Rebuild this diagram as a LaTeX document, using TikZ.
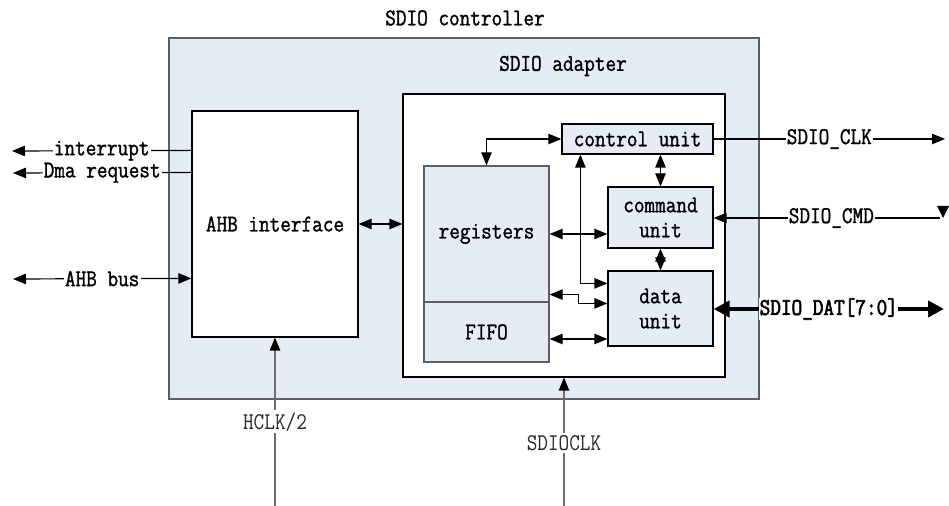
\documentclass[tikz,border=0pt]{standalone}
\usepackage{fontspec}
\setmonofont{Latin Modern Mono}[FakeStretch=0.86,FakeBold=1.3]
\newfontfamily\lightmono{Latin Modern Mono}[FakeStretch=0.86]
\newfontfamily\boldmono{Latin Modern Mono}[FakeStretch=0.86,FakeBold=2.6]
\usetikzlibrary{arrows.meta,calc}
\definecolor{boxblue}{RGB}{230,236,246}
\definecolor{edgegray}{RGB}{95,95,95}
\definecolor{clkgray}{RGB}{110,110,110}
\begin{document}
\begin{tikzpicture}[x=0.5pt,y=-0.5pt,
  font=\fontsize{12}{12.5}\selectfont\ttfamily,
  blk/.style={draw=black,line width=0.6pt,inner sep=0pt,align=center},
  bluebox/.style={blk,fill=boxblue},
  whitebox/.style={blk,fill=white},
  conn/.style={line width=0.6pt,black},
  biarrow/.style={conn,{Triangle[length=6.5pt,width=5.2pt]}-{Triangle[length=6.5pt,width=5.2pt]}},
  toarrow/.style={conn,-{Triangle[length=6.5pt,width=5.2pt]}},
  fatarrow/.style={line width=2pt,black,{Triangle[length=8pt,width=8pt]}-{Triangle[length=8pt,width=8pt]}},
  lbl/.style={fill=white,inner sep=0.6pt},
  clklbl/.style={fill=white,inner sep=1pt,text=black!85,font=\fontsize{12}{13.5}\selectfont\lightmono},
  clkline/.style={line width=0.7pt,clkgray,-{Triangle[length=6.5pt,width=5.2pt,color=black]}}]
\useasboundingbox (0,0) rectangle (949,506);
% frames
\node[bluebox,draw=edgegray,line width=0.8pt,minimum width=295pt,minimum height=180.5pt] (ctl) at (464,218.5) {};
\node[whitebox,minimum width=161pt,minimum height=141.5pt] (adp) at (564,235.5) {};
\node[whitebox,minimum width=83pt,minimum height=113pt] (ahb) at (275,224) {AHB interface};
\node (ttl) at (465,18) {SDIO controller};
\node (adt) at (563,66) {SDIO adapter};
% inner blocks
\node[bluebox,draw=edgegray,minimum width=62.5pt,minimum height=68pt] (regs) at (486.5,234) {registers};
\node[bluebox,draw=edgegray,minimum width=62.5pt,minimum height=30pt] (fifo) at (486.5,332) {FIFO};
\node[bluebox,minimum width=75.5pt,minimum height=15pt] (ctrl) at (637.5,139) {control unit};
\node[bluebox,minimum width=52.5pt,minimum height=30.5pt] (cmd) at (660.5,217.5) {command\\unit};
\node[bluebox,minimum width=52.5pt,minimum height=37.5pt] (dat) at (660.5,308.5) {data\\unit};
% internal connectors
\draw[biarrow] (ahb.east) -- (ahb.east -| adp.west);
\draw[biarrow] (regs.north) |- (ctrl.west);
\draw[biarrow] (regs.east) -- (regs.east -| cmd.west);
\draw[biarrow] (ctrl.south -| cmd.north) -- (cmd.north);
\draw[biarrow] (cmd.south) -- (dat.north);
\coordinate (cdA) at ($(ctrl.south west)+(19,0)$);
\coordinate (cdB) at ($(dat.north west)+(0,13)$);
\draw[biarrow] (cdA) |- (cdB);
\coordinate (rdA) at ($(regs.south east)+(0,-8)$);
\coordinate (rdB) at ($(dat.north west)+(0,33)$);
\draw[biarrow] (rdA) -- ++(29,0) |- (rdB);
\coordinate (fdA) at ($(fifo.east)+(0,7)$);
\draw[biarrow] (fdA) -- (fdA -| dat.west);
% left signals
\coordinate (intR) at ($(ahb.north west)+(0,40)$);
\coordinate (intL) at (12,151);
\draw[toarrow] (intR) -- node[lbl] (intT) {interrupt} (intL);
\coordinate (dmaR) at ($(ahb.north west)+(0,62)$);
\coordinate (dmaL) at (13,173);
\draw[toarrow] (dmaR) -- node[lbl] (dmaT) {Dma request} (dmaL);
\coordinate (busR) at ($(ahb.north west)+(0,168)$);
\coordinate (busL) at (13,279);
\draw[biarrow] (busL) -- node[lbl] (busT) {AHB bus} (busR);
% right signals
\coordinate (clkR) at (945,139);
\draw[toarrow] (ctrl.east) -- node[lbl,pos=0.5] (clkT) {SDIO\_CLK} (clkR);
\coordinate (cmdR) at (940,218);
\draw[toarrow] (cmdR) -- node[lbl,pos=0.48] (cmdT) {SDIO\_CMD} (cmd.east |- cmdR);
\fill[black] (937,206) -- (949,206) -- (943,218) -- cycle;
\coordinate (datR) at (944,309);
\draw[fatarrow] (dat.east |- datR) -- node[lbl,inner sep=0.3pt,font=\fontsize{12}{13.5}\selectfont\boldmono] (datT) {SDIO\_DAT[7:0]} (datR);
% clocks
\coordinate (hclkB) at (275,506);
\draw[clkline] (hclkB) -- node[clklbl,pos=0.5] (hclkT) {HCLK/2} (ahb.south);
\coordinate (sdclkB) at (564,506);
\draw[clkline] (sdclkB) -- node[clklbl,pos=0.49] (sdclkT) {SDIOCLK} (adp.south);
\end{tikzpicture}
\end{document}
